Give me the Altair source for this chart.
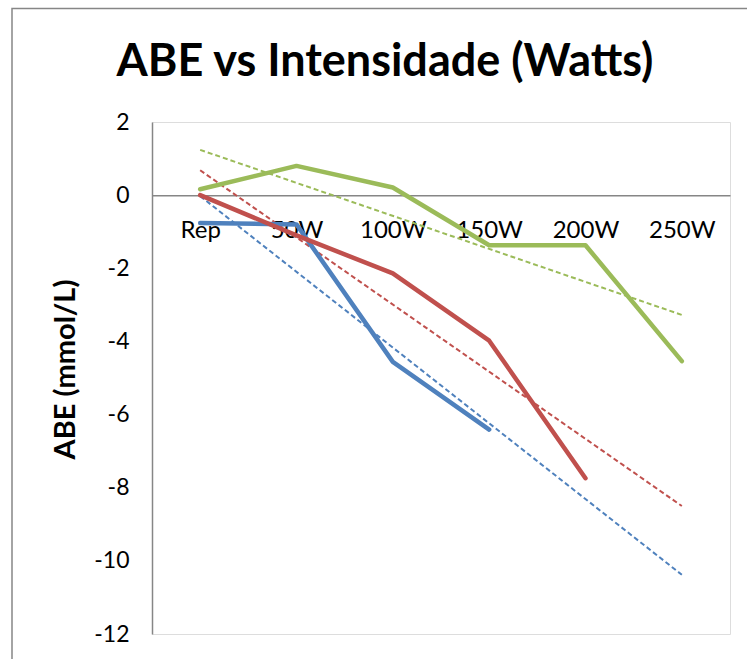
import altair as alt
import pandas as pd

categories = ["Rep", "50W", "100W", "150W", "200W", "250W"]
series_names = ["Série 1", "Série 2", "Série 3"]
blue = [-0.76, -0.80, -4.56, -6.41, None, None]
red = [0.0, -1.10, -2.14, -3.98, -7.74, None]
green = [0.16, 0.80, 0.21, -1.37, -1.37, -4.54]
colors = ["#4F81BD", "#C0504D", "#9BBB59"]
y_ticks = [2, 0, -2, -4, -6, -8, -10, -12]
title_text = "ABE vs Intensidade (Watts)"
y_title = "ABE (mmol/L)"

rows = []
for name, vals in zip(series_names, [blue, red, green]):
    for i, v in enumerate(vals):
        if v is not None:
            rows.append({"idx": i, "cat": categories[i], "series": name, "value": v})
df = pd.DataFrame(rows)

W, H = 578, 512
PL, PT = 152, 122
y_dom = [-12, 2]
zero_from_bottom = H * (0 - y_dom[0]) / (y_dom[1] - y_dom[0])

label_expr = "[" + ",".join("'%s'" % c for c in categories) + "][datum.value]"

x_enc = alt.X(
    "idx:Q",
    scale=alt.Scale(domain=[-0.5, len(categories) - 0.5], nice=False, zero=False),
    axis=alt.Axis(
        orient="bottom",
        offset=-zero_from_bottom,
        values=list(range(len(categories))),
        labelExpr=label_expr,
        ticks=False,
        grid=False,
        domainColor="#868686",
        domainWidth=1.5,
        labelFont="Lato",
        labelFontSize=24,
        labelColor="#000000",
        labelPadding=23,
        title=None,
    ),
)
y_enc = alt.Y(
    "value:Q",
    scale=alt.Scale(domain=y_dom, nice=False),
    axis=alt.Axis(
        values=y_ticks,
        labelExpr="datum.value + ''",
        ticks=False,
        grid=False,
        domainColor="#868686",
        domainWidth=1.5,
        labelFont="Lato",
        labelFontSize=23,
        labelColor="#000000",
        labelPadding=23,
        title=y_title,
        titleFont="Lato",
        titleFontSize=29,
        titleFontWeight="bold",
        titleColor="#000000",
        titleX=-87,
        titleY=H / 2 - 9,
        titleBaseline="middle",
    ),
)
color_enc = alt.Color(
    "series:N",
    scale=alt.Scale(domain=series_names, range=colors),
    legend=None,
)

base = alt.Chart(df)

lines = base.mark_line(strokeWidth=4.5, strokeCap="round", strokeJoin="round").encode(
    x=x_enc, y=y_enc, color=color_enc, detail="series:N"
)

trends = base.transform_regression(
    "idx", "value", groupby=["series"], extent=[0, len(categories) - 1]
).mark_line(strokeWidth=2, strokeDash=[5, 3]).encode(
    x="idx:Q", y="value:Q", color=color_enc, detail="series:N"
)

one = pd.DataFrame({"a": [0]})

border = alt.Chart(one).mark_rect(
    fill=None, stroke="#868686", strokeWidth=1.5
).encode(
    x=alt.value(12 - PL), x2=alt.value(800), y=alt.value(8.5 - PT), y2=alt.value(700)
)

title = alt.Chart(one).mark_text(
    text=title_text,
    font="Lato",
    fontSize=45,
    fontWeight="bold",
    color="#000000",
    align="center",
    baseline="alphabetic",
).encode(x=alt.value(385 - PL), y=alt.value(76 - PT))

chart = alt.layer(border, title, trends, lines).properties(
    width=W,
    height=H,
    padding={"left": PL, "top": PT, "right": 747 - PL - W, "bottom": 659 - PT - H},
    autosize=alt.AutoSizeParams(type="none"),
).configure_view(stroke=None).configure(background="#FFFFFF")

chart.save("out.html", embed_options={"renderer": "svg", "actions": False})
